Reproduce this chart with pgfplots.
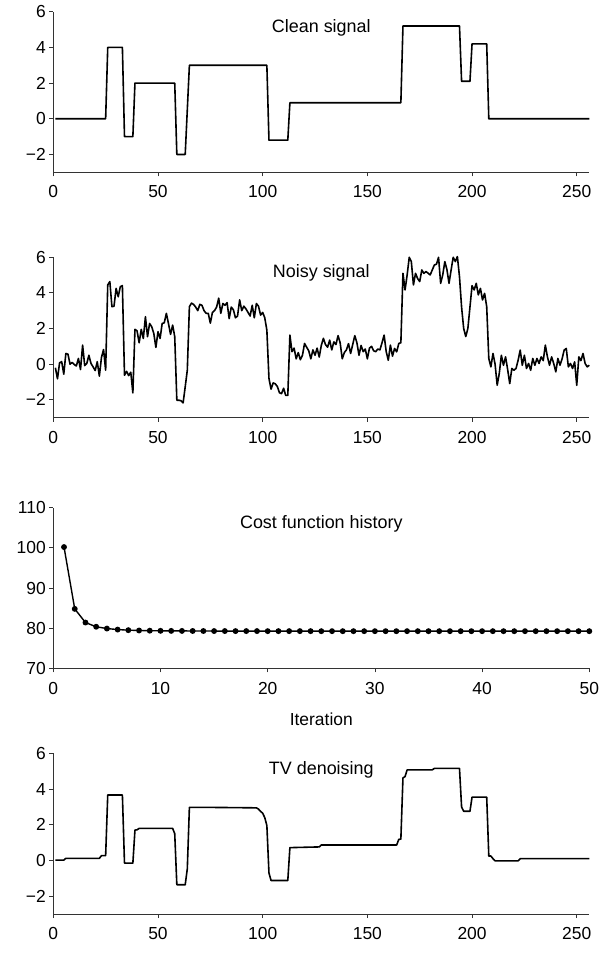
\documentclass[border=0pt]{standalone}
\usepackage{fontspec}
\setmainfont{Liberation Sans}
\usepackage{pgfplots}
\usepackage{pgfplotstable}
\pgfplotsset{compat=1.18}

\pgfplotstableread{
n y
1 -0.20
2 -0.82
3 0.08
4 0.14
5 -0.56
6 0.60
7 0.56
8 0.00
9 0.10
10 -0.02
11 -0.10
12 0.32
13 -0.30
14 1.07
15 -0.08
16 0.04
17 0.50
18 0.04
19 -0.15
20 -0.36
21 0.14
22 -0.67
23 0.37
24 0.82
25 -0.34
26 4.44
27 4.63
28 3.22
29 3.25
30 4.25
31 3.78
32 4.34
33 4.40
34 -0.62
35 -0.40
36 -0.64
37 -0.45
38 -1.61
39 1.95
40 1.87
41 1.20
42 1.95
43 1.44
44 2.66
45 1.54
46 2.28
47 2.10
48 1.72
49 0.94
50 1.82
51 1.44
52 2.28
53 2.32
54 2.85
55 2.28
56 1.67
57 2.19
58 1.54
59 -2.02
60 -2.02
61 -2.05
62 -2.17
63 -1.27
64 -0.34
65 3.22
66 3.42
67 3.35
68 3.20
69 3.00
70 3.35
71 3.30
72 3.00
73 2.85
74 2.85
75 2.30
76 2.90
77 3.00
78 3.20
79 3.70
80 2.85
81 3.40
82 3.30
83 3.45
84 2.55
85 3.20
86 3.05
87 2.60
88 2.70
89 3.60
90 3.00
91 3.25
92 3.10
93 2.90
94 2.70
95 3.30
96 2.60
97 3.40
98 3.25
99 2.75
100 2.90
101 2.60
102 1.90
103 -0.80
104 -1.40
105 -1.05
106 -1.10
107 -1.25
108 -1.60
109 -1.65
110 -1.35
111 -1.75
112 -1.75
113 1.63
114 0.70
115 0.90
116 0.30
117 0.65
118 0.25
119 0.50
120 1.16
121 0.95
122 0.75
123 0.30
124 0.80
125 0.50
126 0.90
127 0.40
128 1.05
129 1.45
130 1.10
131 0.95
132 1.35
133 0.80
134 1.25
135 1.10
136 1.60
137 1.20
138 0.30
139 0.65
140 0.80
141 1.15
142 0.60
143 1.10
144 1.60
145 1.20
146 0.50
147 1.05
148 0.70
149 0.85
150 0.30
151 0.90
152 1.00
153 0.75
154 0.70
155 0.85
156 0.80
157 1.20
158 1.63
159 0.70
160 0.22
161 1.07
162 0.45
163 0.88
164 0.69
165 1.16
166 1.20
167 5.09
168 4.16
169 5.00
170 5.99
171 5.75
172 4.44
173 5.09
174 4.80
175 4.63
176 5.28
177 5.09
178 5.19
179 5.10
180 5.00
181 5.28
182 5.56
183 5.60
184 5.99
185 4.53
186 5.00
187 5.75
188 5.30
189 4.53
190 5.28
191 5.99
192 5.75
193 6.03
194 4.90
195 3.20
196 2.00
197 1.55
198 2.00
199 3.20
200 4.40
201 4.16
202 4.53
203 3.88
204 4.25
205 3.60
206 3.97
207 3.22
208 0.32
209 -0.15
210 0.60
211 0.00
212 -1.18
213 -0.52
214 0.50
215 -0.06
216 0.41
217 -0.30
218 -1.09
219 -0.24
220 -0.34
221 -0.24
222 0.22
223 0.79
224 -0.06
225 0.50
226 -0.24
227 0.04
228 -0.34
229 0.32
230 -0.06
231 0.32
232 0.04
233 0.41
234 0.20
235 1.07
236 0.41
237 -0.06
238 0.41
239 0.04
240 -0.43
241 0.32
242 -0.06
243 0.30
244 0.79
245 0.88
246 -0.15
247 0.04
248 -0.24
249 0.13
250 -1.18
251 0.41
252 0.20
253 0.60
254 0.04
255 -0.15
256 -0.06
}\noisy

\pgfplotstableread{
n y
1 100.2
2 84.8
3 81.4
4 80.35
5 79.9
6 79.65
7 79.5
8 79.42
9 79.37
10 79.34
11 79.32
12 79.31
13 79.30
14 79.29
15 79.28
16 79.28
17 79.27
18 79.27
19 79.27
20 79.26
21 79.26
22 79.26
23 79.26
24 79.26
25 79.25
26 79.25
27 79.25
28 79.25
29 79.25
30 79.25
31 79.25
32 79.25
33 79.25
34 79.25
35 79.25
36 79.25
37 79.25
38 79.25
39 79.25
40 79.25
41 79.25
42 79.25
43 79.25
44 79.25
45 79.25
46 79.25
47 79.25
48 79.25
49 79.25
50 79.25
}\cost

\pgfplotsset{
  sig/.style={
    scale only axis, width=536bp, height=160.6bp,
    anchor=south west,
    axis x line*=bottom, axis y line*=left,
    axis line style={black!80, line width=0.8bp},
    every tick/.style={black!80, line width=0.8bp},
    tick align=outside, major tick length=4bp,
    font=\fontsize{17.5}{21}\selectfont,
    xmin=0, xmax=256, ymin=-3, ymax=6,
    xtick={0,50,100,150,200,250},
    ytick={-2,0,2,4,6},
    yticklabels={−2,0,2,4,6},
    xticklabel style={yshift=-6bp},
    xticklabels={0,50,100,150,200,250},
    clip=false,
  },
  curve/.style={black, line width=1.6bp, line join=round},
}

\begin{document}
\begin{tikzpicture}
\useasboundingbox (0,0) rectangle (600bp,-953bp);

% Clean signal
\begin{axis}[sig, at={(53.3bp,-172.3bp)}]
\addplot[curve] coordinates {
(1,0) (25,0) (26,4) (33,4) (34,-1) (38,-1) (39,2) (58,2) (59,-2) (63,-2)
(64,0.5) (65,3) (102,3) (103,-1.2) (112,-1.2) (113,0.9) (166,0.9) (167,5.2)
(194,5.2) (195,2.1) (199,2.1) (200,4.2) (207,4.2) (208,0) (256,0)};
\node[font=\fontsize{18}{21}\selectfont] at (rel axis cs:0.5,0.9) {Clean signal};
\end{axis}

% Noisy signal
\begin{axis}[sig, at={(53.3bp,-417.7bp)}]
\addplot[curve] table[x=n, y=y] {\noisy};
\node[font=\fontsize{18}{21}\selectfont] at (rel axis cs:0.5,0.9) {Noisy signal};
\end{axis}

% Cost function history
\begin{axis}[sig, at={(53.3bp,-668.3bp)},
  xmin=0, xmax=50, ymin=70, ymax=110,
  xtick={0,10,20,30,40,50}, xticklabels={0,10,20,30,40,50},
  ytick={70,80,90,100,110}, yticklabels={70,80,90,100,110},
  xlabel={Iteration},
  every axis x label/.style={at={(rel axis cs:0.5,0)}, anchor=center, yshift=-51bp},
]
\addplot[black, line width=1.4bp, mark=*, mark size=2.2bp] table[x=n, y=y] {\cost};
\node[font=\fontsize{18}{21}\selectfont] at (rel axis cs:0.5,0.9) {Cost function history};
\end{axis}

% TV denoising
\begin{axis}[sig, at={(53.3bp,-914bp)}]
\addplot[curve] coordinates {
(1,0.02) (5,0.02) (6,0.12) (22,0.12) (23,0.27) (25,0.27) (26,3.67) (33,3.67)
(34,-0.15) (38,-0.15) (39,1.7) (40,1.72) (41,1.8) (57,1.8) (58,1.5) (59,-1.36)
(63,-1.36) (64,-0.47) (65,2.98) (80,2.97) (97,2.95) (98,2.88) (99,2.75) (100,2.65)
(101,2.4) (102,1.96) (103,-0.7) (104,-1.12) (112,-1.12) (113,0.72) (120,0.74)
(127,0.76) (128,0.87) (164,0.87) (165,1.18) (166,1.2) (167,4.63) (168,4.7)
(169,5.08) (181,5.08) (182,5.16) (194,5.16) (195,3.0) (196,2.76) (199,2.76)
(200,3.55) (207,3.55) (208,0.25) (209,0.25) (210,0.1) (211,-0.02) (222,-0.02)
(223,0.1) (256,0.1)};
\node[font=\fontsize{18}{21}\selectfont] at (rel axis cs:0.5,0.9) {TV denoising};
\end{axis}
\end{tikzpicture}
\end{document}
